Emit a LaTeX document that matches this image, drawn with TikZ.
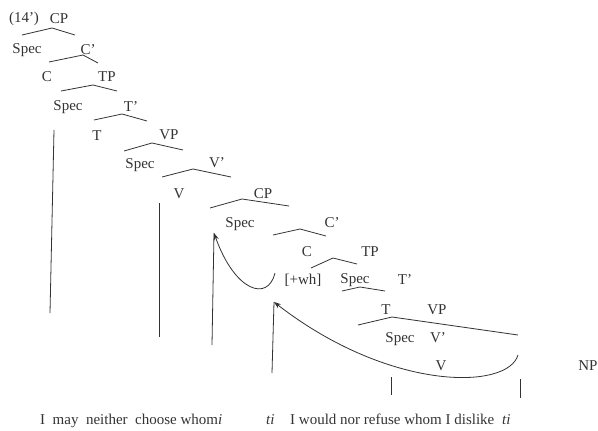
\documentclass[tikz,border=0pt]{standalone}
\usepackage{fontspec}
\setmainfont{Liberation Serif}
\usetikzlibrary{arrows.meta}
\usetikzlibrary{positioning}

\begin{document}
\begin{tikzpicture}[x=1pt,y=-1pt]
  \tikzset{
    lbl/.style={font=\fontsize{15}{18}\selectfont,text=black!80,inner sep=0pt},
    branch/.style={black!80,line width=0.8pt},
    move/.style={black!80,line width=0.8pt,-{Stealth[length=7pt,width=5pt]}},
  }
  \useasboundingbox (0,0) rectangle (598,431);
  %LABELS UPPER CP
  \node[lbl] (num) at (24,19) {(14')};
  \node[lbl] (cp1) at (59,19) {CP};
  \node[lbl] (spec1) at (27,50) {Spec};
  \node[lbl] (cbar1) at (88,50) {C'};
  \node[lbl] (c1) at (47,77) {C};
  \node[lbl] (tp1) at (107,77) {TP};
  \node[lbl] (spec2) at (68,107) {Spec};
  \node[lbl] (tbar1) at (131,107) {T'};
  \node[lbl] (t1) at (97,136) {T};
  \node[lbl] (vp1) at (169,135) {VP};
  \node[lbl] (spec3) at (140,165) {Spec};
  \node[lbl] (vbar1) at (217,163) {V'};
  \node[lbl] (v1) at (179,194) {V};
  %LABELS LOWER CP
  \node[lbl] (cp2) at (263,194) {CP};
  \node[lbl] (spec4) at (240,224) {Spec};
  \node[lbl] (cbar2) at (332,223) {C'};
  \node[lbl] (c2) at (307,252) {C};
  \node[lbl] (tp2) at (370,252) {TP};
  \node[lbl] (wh) at (303,280) {[+wh]};
  \node[lbl] (spec5) at (355,280) {Spec};
  \node[lbl] (tbar2) at (405,280) {T'};
  \node[lbl] (t2) at (386,310) {T};
  \node[lbl] (vp2) at (437,310) {VP};
  \node[lbl] (spec6) at (400,339) {Spec};
  \node[lbl] (vbar2) at (438,338) {V'};
  \node[lbl] (v2) at (441,366) {V};
  \node[lbl] (np) at (588,366) {NP};

  %BRANCHES
  \foreach \lx/\ly/\px/\py/\rx/\ry in {22/35/52/28/75/35, 49/62/83/55/98/63,
      61/91/93/85/117/91, 94/120/122/114/147/121, 124/151/152/143/183/150,
      162/177/193/169/231/177, 210/208/242/199/289/206, 273/235/300/229/326/236,
      311/268/333/258/357/264, 342/291/360/287/385/291, 358/325/392/317/518/335}{
    \draw[branch] (\lx,\ly) -- (\px,\py) -- (\rx,\ry);
  }

  %VERTICAL LINES
  \draw[branch] (54,130) -- (50,313);
  \draw[branch] (159,203) -- (159,337);
  \draw[branch] (391,377) -- (391,395);
  \draw[branch] (520,379) -- (520,398);

  %MOVEMENT 1
  \coordinate (land1) at (214,233);
  \coordinate (foot1) at (212,345);
  \coordinate (start1) at (275,273);
  \draw[branch] (foot1) -- (land1);
  \draw[move] (start1) .. controls (268,302) and (235,292) .. (land1);
  %MOVEMENT 2
  \coordinate (land2) at (274,302);
  \coordinate (foot2) at (272,373);
  \coordinate (start2) at (518,355);
  \draw[branch] (foot2) -- (land2);
  \draw[move] (start2) .. controls (508,390) and (390,392) .. (land2);

  %SENTENCE
  \node[lbl,anchor=base west] (s1) at (40,424) {I~ may~ neither~ choose whom\textit{i}};
  \node[lbl,anchor=base west] (tr1) at (266,424) {\textit{ti}};
  \node[lbl,anchor=base west] (s2) at (290,424) {I would nor refuse whom I dislike};
  \node[lbl,anchor=base west] (tr2) at (502,424) {\textit{ti}};
\end{tikzpicture}
\end{document}
